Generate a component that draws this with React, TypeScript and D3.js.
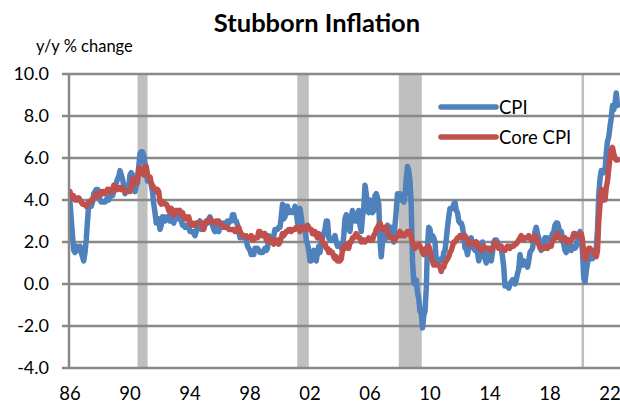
import React from "react";
import * as d3 from "d3";

// monthly y/y % change, starting Jan 1986
const START_YEAR = 1986;

const cpi = [
  // 1986
  3.9, 3.1, 2.3, 1.6, 1.5, 1.8, 1.6, 1.6, 1.8, 1.5, 1.3, 1.1,
  // 1987
  1.5, 2.1, 3.0, 3.8, 3.9, 3.7, 3.9, 4.3, 4.4, 4.5, 4.5, 4.4,
  // 1988
  4.0, 3.9, 3.9, 3.9, 3.9, 4.0, 4.1, 4.0, 4.2, 4.2, 4.2, 4.4,
  // 1989
  4.7, 4.8, 5.0, 5.1, 5.4, 5.2, 5.0, 4.7, 4.3, 4.5, 4.7, 4.6,
  // 1990
  5.2, 5.3, 5.2, 4.7, 4.4, 4.7, 4.8, 5.6, 6.2, 6.3, 6.3, 6.1,
  // 1991
  5.7, 5.3, 4.9, 4.9, 5.0, 4.7, 4.4, 3.8, 3.4, 2.9, 3.0, 3.1,
  // 1992
  2.6, 2.8, 3.2, 3.2, 3.0, 3.1, 3.2, 3.1, 3.0, 3.2, 3.0, 2.9,
  // 1993
  3.3, 3.2, 3.1, 3.2, 3.2, 3.0, 2.8, 2.8, 2.7, 2.8, 2.7, 2.7,
  // 1994
  2.5, 2.5, 2.5, 2.4, 2.3, 2.5, 2.8, 2.9, 3.0, 2.6, 2.7, 2.7,
  // 1995
  2.8, 2.9, 2.9, 3.1, 3.2, 3.0, 2.8, 2.6, 2.5, 2.8, 2.6, 2.5,
  // 1996
  2.7, 2.7, 2.8, 2.9, 2.9, 2.8, 3.0, 2.9, 3.0, 3.0, 3.3, 3.3,
  // 1997
  3.0, 3.0, 2.8, 2.5, 2.2, 2.3, 2.2, 2.2, 2.2, 2.1, 1.8, 1.7,
  // 1998
  1.6, 1.4, 1.4, 1.4, 1.7, 1.7, 1.7, 1.6, 1.5, 1.5, 1.5, 1.6,
  // 1999
  1.7, 1.6, 1.7, 2.3, 2.1, 2.0, 2.1, 2.3, 2.6, 2.6, 2.6, 2.7,
  // 2000
  2.7, 3.2, 3.8, 3.1, 3.2, 3.7, 3.7, 3.4, 3.5, 3.4, 3.4, 3.4,
  // 2001
  3.7, 3.5, 2.9, 3.3, 3.6, 3.2, 2.7, 2.7, 2.6, 2.1, 1.9, 1.6,
  // 2002
  1.1, 1.1, 1.5, 1.6, 1.2, 1.1, 1.5, 1.8, 1.5, 2.0, 2.2, 2.4,
  // 2003
  2.6, 3.0, 3.0, 2.2, 2.1, 2.1, 2.1, 2.2, 2.3, 2.0, 1.8, 1.9,
  // 2004
  1.9, 1.7, 1.7, 2.3, 3.1, 3.3, 3.0, 2.7, 2.5, 3.2, 3.5, 3.3,
  // 2005
  3.0, 3.0, 3.1, 3.5, 2.8, 2.5, 3.2, 3.6, 4.7, 4.3, 3.5, 3.4,
  // 2006
  4.0, 3.6, 3.4, 3.5, 4.2, 4.3, 4.1, 3.8, 2.1, 1.3, 2.0, 2.5,
  // 2007
  2.1, 2.4, 2.8, 2.6, 2.7, 2.7, 2.4, 2.0, 2.8, 3.5, 4.3, 4.1,
  // 2008
  4.3, 4.0, 4.0, 3.9, 4.2, 5.0, 5.6, 5.4, 4.9, 3.7, 1.1, 0.1,
  // 2009
  0.0, 0.2, -0.4, -0.7, -1.3, -1.4, -2.1, -1.5, -1.3, -0.2, 1.8, 2.7,
  // 2010
  2.6, 2.1, 2.3, 2.2, 2.0, 1.1, 1.2, 1.1, 1.1, 1.2, 1.1, 1.5,
  // 2011
  1.6, 2.1, 2.7, 3.2, 3.6, 3.6, 3.6, 3.8, 3.9, 3.5, 3.4, 3.0,
  // 2012
  2.9, 2.9, 2.7, 2.3, 1.7, 1.7, 1.4, 1.7, 2.0, 2.2, 1.8, 1.7,
  // 2013
  1.6, 2.0, 1.5, 1.1, 1.4, 1.8, 2.0, 1.5, 1.2, 1.0, 1.2, 1.5,
  // 2014
  1.6, 1.1, 1.5, 2.0, 2.1, 2.1, 2.0, 1.7, 1.7, 1.7, 1.3, 0.8,
  // 2015
  -0.1, 0.0, -0.1, -0.2, 0.0, 0.1, 0.2, 0.2, 0.0, 0.2, 0.5, 0.7,
  // 2016
  1.4, 1.0, 0.9, 1.1, 1.0, 1.0, 0.8, 1.1, 1.5, 1.6, 1.7, 2.1,
  // 2017
  2.5, 2.7, 2.4, 2.2, 1.9, 1.6, 1.7, 1.9, 2.2, 2.0, 2.2, 2.1,
  // 2018
  2.1, 2.2, 2.4, 2.5, 2.8, 2.9, 2.9, 2.7, 2.3, 2.5, 2.2, 1.9,
  // 2019
  1.6, 1.5, 1.9, 2.0, 1.8, 1.6, 1.8, 1.7, 1.7, 1.8, 2.1, 2.3,
  // 2020
  2.5, 2.3, 1.5, 0.3, 0.1, 0.6, 1.0, 1.3, 1.4, 1.2, 1.2, 1.4,
  // 2021
  1.4, 1.7, 2.6, 4.2, 5.0, 5.4, 5.4, 5.3, 5.4, 6.2, 6.8, 7.0,
  // 2022
  7.5, 7.9, 8.5, 8.3, 8.6, 9.1, 8.5,
];

const coreCpi = [
  // 1986
  4.4, 4.2, 4.1, 4.2, 4.0, 4.0, 4.0, 4.1, 4.0, 3.9, 3.8, 3.8,
  // 1987
  3.8, 3.7, 3.8, 3.9, 3.9, 4.0, 4.0, 4.1, 4.1, 4.3, 4.3, 4.2,
  // 1988
  4.3, 4.4, 4.3, 4.4, 4.3, 4.4, 4.5, 4.4, 4.5, 4.4, 4.4, 4.7,
  // 1989
  4.5, 4.6, 4.5, 4.6, 4.6, 4.5, 4.6, 4.5, 4.4, 4.4, 4.4, 4.4,
  // 1990
  4.4, 4.6, 5.0, 4.8, 4.8, 4.8, 5.0, 5.5, 5.5, 5.3, 5.3, 5.2,
  // 1991
  5.6, 5.6, 5.2, 5.1, 5.1, 4.8, 4.7, 4.6, 4.5, 4.4, 4.5, 4.4,
  // 1992
  3.9, 3.8, 3.9, 3.9, 3.8, 3.8, 3.7, 3.5, 3.4, 3.6, 3.5, 3.3,
  // 1993
  3.5, 3.5, 3.5, 3.4, 3.5, 3.3, 3.4, 3.2, 3.1, 3.2, 3.1, 3.2,
  // 1994
  2.9, 2.8, 2.9, 2.8, 2.8, 2.9, 2.9, 2.9, 2.9, 2.9, 2.8, 2.6,
  // 1995
  2.9, 3.0, 3.0, 3.0, 3.1, 3.0, 3.0, 2.9, 2.9, 3.0, 3.0, 3.0,
  // 1996
  2.9, 2.8, 2.8, 2.7, 2.7, 2.7, 2.7, 2.6, 2.6, 2.6, 2.6, 2.6,
  // 1997
  2.5, 2.5, 2.5, 2.7, 2.5, 2.4, 2.3, 2.3, 2.3, 2.3, 2.2, 2.2,
  // 1998
  2.2, 2.3, 2.1, 2.1, 2.2, 2.2, 2.2, 2.5, 2.5, 2.3, 2.3, 2.4,
  // 1999
  2.4, 2.1, 2.1, 2.2, 2.0, 2.1, 2.1, 1.9, 2.0, 2.1, 2.1, 1.9,
  // 2000
  2.0, 2.2, 2.4, 2.3, 2.4, 2.5, 2.5, 2.6, 2.6, 2.5, 2.6, 2.6,
  // 2001
  2.6, 2.7, 2.7, 2.6, 2.5, 2.7, 2.7, 2.7, 2.6, 2.6, 2.8, 2.7,
  // 2002
  2.6, 2.6, 2.4, 2.5, 2.5, 2.3, 2.2, 2.4, 2.2, 2.2, 2.0, 1.9,
  // 2003
  1.9, 1.7, 1.7, 1.5, 1.6, 1.5, 1.5, 1.3, 1.2, 1.3, 1.1, 1.1,
  // 2004
  1.1, 1.2, 1.6, 1.8, 1.7, 1.9, 1.8, 1.7, 2.0, 2.0, 2.2, 2.2,
  // 2005
  2.3, 2.4, 2.3, 2.2, 2.2, 2.0, 2.1, 2.1, 2.0, 2.1, 2.1, 2.2,
  // 2006
  2.1, 2.1, 2.1, 2.3, 2.4, 2.6, 2.7, 2.8, 2.9, 2.7, 2.6, 2.6,
  // 2007
  2.7, 2.7, 2.5, 2.3, 2.2, 2.2, 2.2, 2.1, 2.1, 2.2, 2.3, 2.4,
  // 2008
  2.5, 2.3, 2.4, 2.3, 2.3, 2.4, 2.5, 2.5, 2.5, 2.2, 2.0, 1.8,
  // 2009
  1.7, 1.8, 1.8, 1.9, 1.8, 1.7, 1.5, 1.4, 1.5, 1.7, 1.7, 1.8,
  // 2010
  1.6, 1.3, 1.1, 0.9, 0.9, 0.9, 0.9, 0.9, 0.8, 0.6, 0.8, 0.8,
  // 2011
  1.0, 1.1, 1.2, 1.3, 1.5, 1.6, 1.8, 2.0, 2.0, 2.1, 2.2, 2.2,
  // 2012
  2.3, 2.2, 2.3, 2.3, 2.3, 2.2, 2.1, 1.9, 2.0, 2.0, 1.9, 1.9,
  // 2013
  1.9, 2.0, 1.9, 1.7, 1.7, 1.6, 1.7, 1.8, 1.7, 1.7, 1.7, 1.7,
  // 2014
  1.6, 1.6, 1.7, 1.8, 2.0, 1.9, 1.9, 1.7, 1.7, 1.8, 1.7, 1.6,
  // 2015
  1.6, 1.7, 1.8, 1.8, 1.7, 1.8, 1.8, 1.8, 1.9, 1.9, 2.0, 2.1,
  // 2016
  2.2, 2.3, 2.2, 2.1, 2.2, 2.2, 2.2, 2.3, 2.2, 2.1, 2.1, 2.2,
  // 2017
  2.3, 2.2, 2.0, 1.9, 1.7, 1.7, 1.7, 1.7, 1.7, 1.8, 1.7, 1.8,
  // 2018
  1.8, 1.8, 2.1, 2.1, 2.2, 2.3, 2.4, 2.2, 2.2, 2.1, 2.2, 2.2,
  // 2019
  2.2, 2.1, 2.0, 2.1, 2.0, 2.1, 2.2, 2.4, 2.4, 2.3, 2.3, 2.3,
  // 2020
  2.3, 2.4, 2.1, 1.4, 1.2, 1.2, 1.6, 1.7, 1.7, 1.6, 1.6, 1.6,
  // 2021
  1.4, 1.3, 1.6, 3.0, 3.8, 4.5, 4.3, 4.0, 4.0, 4.6, 4.9, 5.5,
  // 2022
  6.0, 6.4, 6.5, 6.2, 6.0, 5.9, 5.9,
];

// recession periods (decimal years)
const recessions: [number, number][] = [
  [1990.5, 1991.17],
  [2001.15, 2001.92],
  [2007.92, 2009.45],
  [2020.1, 2020.27],
];

const yTicks = [-4, -2, 0, 2, 4, 6, 8, 10];
const xTicks = [1986, 1990, 1994, 1998, 2002, 2006, 2010, 2014, 2018, 2022];

const W = 620;
const H = 404;
const FONT = "Lato, 'DejaVu Sans', sans-serif";
const GRID = "#898989";
const BLUE = "#4F81BD";
const RED = "#C0504D";

type Pt = { t: number; v: number };
const toPoints = (arr: number[]): Pt[] =>
  arr.map((v, i) => ({ t: START_YEAR + i / 12, v }));

export default function App() {
  const x = d3.scaleLinear().domain([1986, 2022]).range([70, 610]);
  const y = d3.scaleLinear().domain([-4, 10]).range([368, 74]);

  const line = d3
    .line<Pt>()
    .x((d) => x(d.t))
    .y((d) => y(d.v));

  const left = 70;
  const right = W;

  return (
    <svg
      width={W}
      height={H}
      style={{ position: "absolute", left: 0, top: 0, background: "#fff" }}
      fontFamily={FONT}
    >
      <defs>
        <clipPath id="plot">
          <rect x={left} y={0} width={right - left} height={H} />
        </clipPath>
      </defs>

      {/* title */}
      <text x={317} y={32} textAnchor="middle" fontSize={25.5} fontWeight="bold" fill="#000">
        Stubborn Inflation
      </text>
      <text x={36} y={52} fontSize={16.5} fill="#000">
        y/y % change
      </text>

      {/* recession shading */}
      {recessions.map(([a, b], i) => (
        <rect
          key={i}
          x={x(a)}
          y={y(10)}
          width={Math.max(2.5, x(b) - x(a))}
          height={y(-4) - y(10)}
          fill="#BFBFBF"
        />
      ))}

      {/* grid lines and y axis */}
      {yTicks.map((t) => (
        <g key={t}>
          <line x1={62} x2={right} y1={y(t)} y2={y(t)} stroke={GRID} strokeWidth={2.5} />
          <text
            x={49}
            y={y(t)}
            dy="0.36em"
            textAnchor="end"
            fontSize={18}
            fill="#000"
          >
            {t.toFixed(1)}
          </text>
        </g>
      ))}
      <line x1={left - 1} x2={left - 1} y1={y(10)} y2={y(-4)} stroke={GRID} strokeWidth={2.5} />

      {/* x labels */}
      {xTicks.map((t) => (
        <text key={t} x={x(t)} y={400} textAnchor="middle" fontSize={18.5} fill="#000">
          {String(t % 100).padStart(2, "0")}
        </text>
      ))}

      {/* series */}
      <g clipPath="url(#plot)">
        <path
          d={line(toPoints(cpi)) ?? ""}
          fill="none"
          stroke={BLUE}
          strokeWidth={5.5}
          strokeLinejoin="round"
          strokeLinecap="round"
        />
        <path
          d={line(toPoints(coreCpi)) ?? ""}
          fill="none"
          stroke={RED}
          strokeWidth={5.5}
          strokeLinejoin="round"
          strokeLinecap="round"
        />
      </g>

      {/* legend */}
      <line x1={441} x2={496} y1={107} y2={107} stroke={BLUE} strokeWidth={5.5} strokeLinecap="round" />
      <text x={499} y={107} dy="0.36em" fontSize={18.5} fill="#000">
        CPI
      </text>
      <line x1={441} x2={496} y1={137} y2={137} stroke={RED} strokeWidth={5.5} strokeLinecap="round" />
      <text x={499} y={137} dy="0.36em" fontSize={18.5} fill="#000">
        Core CPI
      </text>
    </svg>
  );
}
